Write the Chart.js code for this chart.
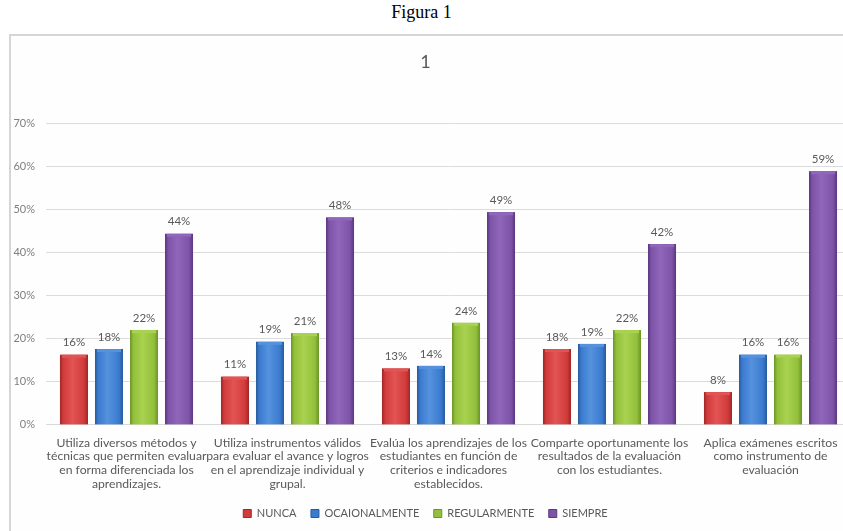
<!DOCTYPE html>
<html>
<head>
<meta charset="utf-8">
<script src="https://cdn.jsdelivr.net/npm/chart.js@4"></script>
<style>
  html, body { margin: 0; padding: 0; width: 843px; height: 531px; overflow: hidden; background: #fff; }
  #fig { position: absolute; left: 0; top: 2px; width: 843px; text-align: center;
         font-family: "Liberation Serif", "Times New Roman", serif; font-size: 18px; color: #000; }
  #box { position: absolute; left: 9px; top: 34px; width: 900px; height: 600px;
         border-left: 2px solid #d6d6d6; border-top: 2px solid #d6d6d6; background: #fefefe; box-sizing: border-box; }
  #wrap { position: absolute; left: 0; top: 0; width: 870px; height: 531px; }
</style>
</head>
<body>
<div id="fig">Figura 1</div>
<div id="box"></div>
<div id="wrap"><canvas id="c"></canvas></div>
<script>
const categories = [
  ["Utiliza diversos métodos y", "técnicas que permiten evaluar", "en forma diferenciada los", "aprendizajes."],
  ["Utiliza instrumentos válidos", "para evaluar el avance y logros", "en el aprendizaje individual y", "grupal."],
  ["Evalúa los aprendizajes de los", "estudiantes en función de", "criterios e indicadores", "establecidos."],
  ["Comparte oportunamente los", "resultados de la evaluación", "con los estudiantes."],
  ["Aplica exámenes escritos", "como instrumento de", "evaluación"]
];
const seriesNames = ["NUNCA", "OCAIONALMENTE", "REGULARMENTE", "SIEMPRE"];
const nunca = [16.3, 11.2, 13.1, 17.6, 7.6];
const ocasionalmente = [17.6, 19.3, 13.7, 18.8, 16.3];
const regularmente = [22.0, 21.3, 23.7, 22.0, 16.3];
const siempre = [44.4, 48.2, 49.4, 42.0, 58.9];
const yTicks = [0, 10, 20, 30, 40, 50, 60, 70];
const chartTitle = "1";

const fills = ["#d23b3b", "#3b7bcf", "#93c03c", "#7e54a8"];
const edges = ["#9e2727", "#285a9c", "#6a9525", "#5a3781"];
const lights = ["#e25454", "#5592de", "#a8d24f", "#9066bb"];
const seriesValues = [nunca, ocasionalmente, regularmente, siempre];

const shadePlugin = {
  id: 'barShade',
  afterDatasetsDraw(chart) {
    const ctx = chart.ctx;
    ctx.save();
    chart.data.datasets.forEach((ds, di) => {
      const meta = chart.getDatasetMeta(di);
      meta.data.forEach((el) => {
        const p = el.getProps(['x', 'y', 'base', 'width'], true);
        const l = p.x - p.width / 2, w = p.width, t = p.y, h = p.base - p.y;
        const g = ctx.createLinearGradient(l, 0, l + w, 0);
        g.addColorStop(0, edges[di]);
        g.addColorStop(0.12, fills[di]);
        g.addColorStop(0.45, lights[di]);
        g.addColorStop(0.85, fills[di]);
        g.addColorStop(1, edges[di]);
        ctx.fillStyle = g;
        ctx.fillRect(l, t, w, h);
        ctx.fillStyle = lights[di];
        ctx.fillRect(l + 2, t, w - 4, Math.min(3, h));
      });
    });
    ctx.restore();
  }
};

const labelPlugin = {
  id: 'barLabels',
  afterDatasetsDraw(chart) {
    const ctx = chart.ctx;
    ctx.save();
    ctx.font = '11.5px Lato, "Open Sans", sans-serif';
    ctx.fillStyle = '#595959';
    ctx.textAlign = 'center';
    ctx.textBaseline = 'middle';
    chart.data.datasets.forEach((ds, di) => {
      const meta = chart.getDatasetMeta(di);
      meta.data.forEach((el, i) => {
        ctx.fillText(Math.round(ds.data[i]) + '%', el.x, el.y - 12);
      });
    });
    ctx.restore();
  }
};

new Chart(document.getElementById('c'), {
  type: 'bar',
  data: {
    labels: categories,
    datasets: seriesNames.map((n, i) => ({
      label: n,
      data: seriesValues[i],
      backgroundColor: fills[i],
      borderColor: edges[i],
      borderWidth: 1,
      categoryPercentage: 0.87,
      barPercentage: 0.8
    }))
  },
  options: {
    responsive: true,
    maintainAspectRatio: false,
    animation: false,
    layout: { padding: { left: 0, right: 19, top: 0, bottom: 2 } },
    plugins: {
      title: {
        display: true, text: chartTitle, color: '#595959',
        font: { family: 'Lato, "Open Sans", sans-serif', size: 18, weight: 'normal' },
        padding: { top: 51, bottom: 51 }
      },
      legend: {
        position: 'bottom',
        labels: {
          color: '#595959', boxWidth: 8, boxHeight: 8, padding: 14.5,
          font: { family: 'Lato, "Open Sans", sans-serif', size: 11 }
        }
      },
      tooltip: { enabled: false }
    },
    scales: {
      x: {
        grid: { display: false },
        border: { display: true, color: '#d9d9d9' },
        ticks: {
          color: '#595959', maxRotation: 0, autoSkip: false, padding: 3,
          font: { family: 'Lato, "Open Sans", sans-serif', size: 12.2, lineHeight: 1.12 }
        }
      },
      y: {
        min: 0, max: 70,
        afterFit(scale) { scale.width = 46; },
        afterBuildTicks(scale) { scale.ticks = yTicks.map(v => ({ value: v })); },
        grid: { color: '#dcdcdc', drawTicks: false },
        border: { display: false },
        ticks: {
          color: '#7f7f7f', padding: 11,
          font: { family: 'Lato, "Open Sans", sans-serif', size: 11 },
          callback: v => v + '%'
        }
      }
    }
  },
  plugins: [shadePlugin, labelPlugin]
});
</script>
</body>
</html>
